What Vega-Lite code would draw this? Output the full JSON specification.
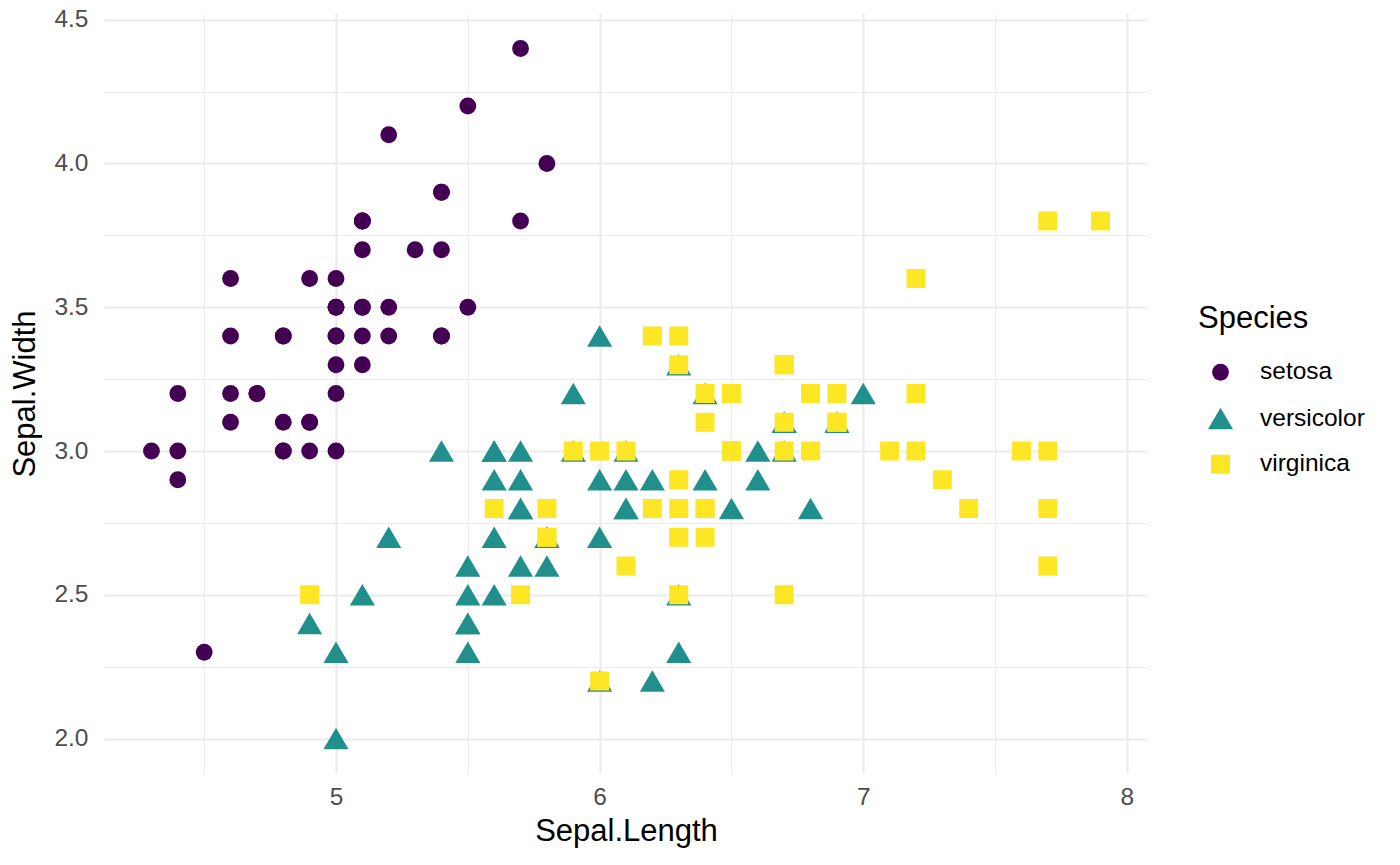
{
  "$schema": "https://vega.github.io/schema/vega-lite/v6.json",
  "width": 1044,
  "height": 759,
  "autosize": {"type": "none"},
  "padding": {"left": 104, "top": 14, "right": 252, "bottom": 92},
  "background": "white",
  "config": {
    "view": {"stroke": null},
    "font": "Liberation Sans",
    "axis": {
      "domain": false,
      "ticks": false,
      "labelFont": "Liberation Sans",
      "labelFontSize": 24.5,
      "labelColor": "#4D4D4D",
      "labelOverlap": false,
      "titleFont": "Liberation Sans",
      "titleFontSize": 31,
      "titleFontWeight": "normal",
      "titleColor": "#000000"
    },
    "legend": {
      "labelFont": "Liberation Sans",
      "titleFont": "Liberation Sans"
    }
  },
  "data": {
    "values": [
      {"Sepal.Length": 5.1, "Sepal.Width": 3.5, "Species": "setosa"},
      {"Sepal.Length": 4.9, "Sepal.Width": 3.0, "Species": "setosa"},
      {"Sepal.Length": 4.7, "Sepal.Width": 3.2, "Species": "setosa"},
      {"Sepal.Length": 4.6, "Sepal.Width": 3.1, "Species": "setosa"},
      {"Sepal.Length": 5.0, "Sepal.Width": 3.6, "Species": "setosa"},
      {"Sepal.Length": 5.4, "Sepal.Width": 3.9, "Species": "setosa"},
      {"Sepal.Length": 4.6, "Sepal.Width": 3.4, "Species": "setosa"},
      {"Sepal.Length": 5.0, "Sepal.Width": 3.4, "Species": "setosa"},
      {"Sepal.Length": 4.4, "Sepal.Width": 2.9, "Species": "setosa"},
      {"Sepal.Length": 4.9, "Sepal.Width": 3.1, "Species": "setosa"},
      {"Sepal.Length": 5.4, "Sepal.Width": 3.7, "Species": "setosa"},
      {"Sepal.Length": 4.8, "Sepal.Width": 3.4, "Species": "setosa"},
      {"Sepal.Length": 4.8, "Sepal.Width": 3.0, "Species": "setosa"},
      {"Sepal.Length": 4.3, "Sepal.Width": 3.0, "Species": "setosa"},
      {"Sepal.Length": 5.8, "Sepal.Width": 4.0, "Species": "setosa"},
      {"Sepal.Length": 5.7, "Sepal.Width": 4.4, "Species": "setosa"},
      {"Sepal.Length": 5.4, "Sepal.Width": 3.9, "Species": "setosa"},
      {"Sepal.Length": 5.1, "Sepal.Width": 3.5, "Species": "setosa"},
      {"Sepal.Length": 5.7, "Sepal.Width": 3.8, "Species": "setosa"},
      {"Sepal.Length": 5.1, "Sepal.Width": 3.8, "Species": "setosa"},
      {"Sepal.Length": 5.4, "Sepal.Width": 3.4, "Species": "setosa"},
      {"Sepal.Length": 5.1, "Sepal.Width": 3.7, "Species": "setosa"},
      {"Sepal.Length": 4.6, "Sepal.Width": 3.6, "Species": "setosa"},
      {"Sepal.Length": 5.1, "Sepal.Width": 3.3, "Species": "setosa"},
      {"Sepal.Length": 4.8, "Sepal.Width": 3.4, "Species": "setosa"},
      {"Sepal.Length": 5.0, "Sepal.Width": 3.0, "Species": "setosa"},
      {"Sepal.Length": 5.0, "Sepal.Width": 3.4, "Species": "setosa"},
      {"Sepal.Length": 5.2, "Sepal.Width": 3.5, "Species": "setosa"},
      {"Sepal.Length": 5.2, "Sepal.Width": 3.4, "Species": "setosa"},
      {"Sepal.Length": 4.7, "Sepal.Width": 3.2, "Species": "setosa"},
      {"Sepal.Length": 4.8, "Sepal.Width": 3.1, "Species": "setosa"},
      {"Sepal.Length": 5.4, "Sepal.Width": 3.4, "Species": "setosa"},
      {"Sepal.Length": 5.2, "Sepal.Width": 4.1, "Species": "setosa"},
      {"Sepal.Length": 5.5, "Sepal.Width": 4.2, "Species": "setosa"},
      {"Sepal.Length": 4.9, "Sepal.Width": 3.1, "Species": "setosa"},
      {"Sepal.Length": 5.0, "Sepal.Width": 3.2, "Species": "setosa"},
      {"Sepal.Length": 5.5, "Sepal.Width": 3.5, "Species": "setosa"},
      {"Sepal.Length": 4.9, "Sepal.Width": 3.6, "Species": "setosa"},
      {"Sepal.Length": 4.4, "Sepal.Width": 3.0, "Species": "setosa"},
      {"Sepal.Length": 5.1, "Sepal.Width": 3.4, "Species": "setosa"},
      {"Sepal.Length": 5.0, "Sepal.Width": 3.5, "Species": "setosa"},
      {"Sepal.Length": 4.5, "Sepal.Width": 2.3, "Species": "setosa"},
      {"Sepal.Length": 4.4, "Sepal.Width": 3.2, "Species": "setosa"},
      {"Sepal.Length": 5.0, "Sepal.Width": 3.5, "Species": "setosa"},
      {"Sepal.Length": 5.1, "Sepal.Width": 3.8, "Species": "setosa"},
      {"Sepal.Length": 4.8, "Sepal.Width": 3.0, "Species": "setosa"},
      {"Sepal.Length": 5.1, "Sepal.Width": 3.8, "Species": "setosa"},
      {"Sepal.Length": 4.6, "Sepal.Width": 3.2, "Species": "setosa"},
      {"Sepal.Length": 5.3, "Sepal.Width": 3.7, "Species": "setosa"},
      {"Sepal.Length": 5.0, "Sepal.Width": 3.3, "Species": "setosa"},
      {"Sepal.Length": 7.0, "Sepal.Width": 3.2, "Species": "versicolor"},
      {"Sepal.Length": 6.4, "Sepal.Width": 3.2, "Species": "versicolor"},
      {"Sepal.Length": 6.9, "Sepal.Width": 3.1, "Species": "versicolor"},
      {"Sepal.Length": 5.5, "Sepal.Width": 2.3, "Species": "versicolor"},
      {"Sepal.Length": 6.5, "Sepal.Width": 2.8, "Species": "versicolor"},
      {"Sepal.Length": 5.7, "Sepal.Width": 2.8, "Species": "versicolor"},
      {"Sepal.Length": 6.3, "Sepal.Width": 3.3, "Species": "versicolor"},
      {"Sepal.Length": 4.9, "Sepal.Width": 2.4, "Species": "versicolor"},
      {"Sepal.Length": 6.6, "Sepal.Width": 2.9, "Species": "versicolor"},
      {"Sepal.Length": 5.2, "Sepal.Width": 2.7, "Species": "versicolor"},
      {"Sepal.Length": 5.0, "Sepal.Width": 2.0, "Species": "versicolor"},
      {"Sepal.Length": 5.9, "Sepal.Width": 3.0, "Species": "versicolor"},
      {"Sepal.Length": 6.0, "Sepal.Width": 2.2, "Species": "versicolor"},
      {"Sepal.Length": 6.1, "Sepal.Width": 2.9, "Species": "versicolor"},
      {"Sepal.Length": 5.6, "Sepal.Width": 2.9, "Species": "versicolor"},
      {"Sepal.Length": 6.7, "Sepal.Width": 3.1, "Species": "versicolor"},
      {"Sepal.Length": 5.6, "Sepal.Width": 3.0, "Species": "versicolor"},
      {"Sepal.Length": 5.8, "Sepal.Width": 2.7, "Species": "versicolor"},
      {"Sepal.Length": 6.2, "Sepal.Width": 2.2, "Species": "versicolor"},
      {"Sepal.Length": 5.6, "Sepal.Width": 2.5, "Species": "versicolor"},
      {"Sepal.Length": 5.9, "Sepal.Width": 3.2, "Species": "versicolor"},
      {"Sepal.Length": 6.1, "Sepal.Width": 2.8, "Species": "versicolor"},
      {"Sepal.Length": 6.3, "Sepal.Width": 2.5, "Species": "versicolor"},
      {"Sepal.Length": 6.1, "Sepal.Width": 2.8, "Species": "versicolor"},
      {"Sepal.Length": 6.4, "Sepal.Width": 2.9, "Species": "versicolor"},
      {"Sepal.Length": 6.6, "Sepal.Width": 3.0, "Species": "versicolor"},
      {"Sepal.Length": 6.8, "Sepal.Width": 2.8, "Species": "versicolor"},
      {"Sepal.Length": 6.7, "Sepal.Width": 3.0, "Species": "versicolor"},
      {"Sepal.Length": 6.0, "Sepal.Width": 2.9, "Species": "versicolor"},
      {"Sepal.Length": 5.7, "Sepal.Width": 2.6, "Species": "versicolor"},
      {"Sepal.Length": 5.5, "Sepal.Width": 2.4, "Species": "versicolor"},
      {"Sepal.Length": 5.5, "Sepal.Width": 2.4, "Species": "versicolor"},
      {"Sepal.Length": 5.8, "Sepal.Width": 2.7, "Species": "versicolor"},
      {"Sepal.Length": 6.0, "Sepal.Width": 2.7, "Species": "versicolor"},
      {"Sepal.Length": 5.4, "Sepal.Width": 3.0, "Species": "versicolor"},
      {"Sepal.Length": 6.0, "Sepal.Width": 3.4, "Species": "versicolor"},
      {"Sepal.Length": 6.7, "Sepal.Width": 3.1, "Species": "versicolor"},
      {"Sepal.Length": 6.3, "Sepal.Width": 2.3, "Species": "versicolor"},
      {"Sepal.Length": 5.6, "Sepal.Width": 3.0, "Species": "versicolor"},
      {"Sepal.Length": 5.5, "Sepal.Width": 2.5, "Species": "versicolor"},
      {"Sepal.Length": 5.5, "Sepal.Width": 2.6, "Species": "versicolor"},
      {"Sepal.Length": 6.1, "Sepal.Width": 3.0, "Species": "versicolor"},
      {"Sepal.Length": 5.8, "Sepal.Width": 2.6, "Species": "versicolor"},
      {"Sepal.Length": 5.0, "Sepal.Width": 2.3, "Species": "versicolor"},
      {"Sepal.Length": 5.6, "Sepal.Width": 2.7, "Species": "versicolor"},
      {"Sepal.Length": 5.7, "Sepal.Width": 3.0, "Species": "versicolor"},
      {"Sepal.Length": 5.7, "Sepal.Width": 2.9, "Species": "versicolor"},
      {"Sepal.Length": 6.2, "Sepal.Width": 2.9, "Species": "versicolor"},
      {"Sepal.Length": 5.1, "Sepal.Width": 2.5, "Species": "versicolor"},
      {"Sepal.Length": 5.7, "Sepal.Width": 2.8, "Species": "versicolor"},
      {"Sepal.Length": 6.3, "Sepal.Width": 3.3, "Species": "virginica"},
      {"Sepal.Length": 5.8, "Sepal.Width": 2.7, "Species": "virginica"},
      {"Sepal.Length": 7.1, "Sepal.Width": 3.0, "Species": "virginica"},
      {"Sepal.Length": 6.3, "Sepal.Width": 2.9, "Species": "virginica"},
      {"Sepal.Length": 6.5, "Sepal.Width": 3.0, "Species": "virginica"},
      {"Sepal.Length": 7.6, "Sepal.Width": 3.0, "Species": "virginica"},
      {"Sepal.Length": 4.9, "Sepal.Width": 2.5, "Species": "virginica"},
      {"Sepal.Length": 7.3, "Sepal.Width": 2.9, "Species": "virginica"},
      {"Sepal.Length": 6.7, "Sepal.Width": 2.5, "Species": "virginica"},
      {"Sepal.Length": 7.2, "Sepal.Width": 3.6, "Species": "virginica"},
      {"Sepal.Length": 6.5, "Sepal.Width": 3.2, "Species": "virginica"},
      {"Sepal.Length": 6.4, "Sepal.Width": 2.7, "Species": "virginica"},
      {"Sepal.Length": 6.8, "Sepal.Width": 3.0, "Species": "virginica"},
      {"Sepal.Length": 5.7, "Sepal.Width": 2.5, "Species": "virginica"},
      {"Sepal.Length": 5.8, "Sepal.Width": 2.8, "Species": "virginica"},
      {"Sepal.Length": 6.4, "Sepal.Width": 3.2, "Species": "virginica"},
      {"Sepal.Length": 6.5, "Sepal.Width": 3.0, "Species": "virginica"},
      {"Sepal.Length": 7.7, "Sepal.Width": 3.8, "Species": "virginica"},
      {"Sepal.Length": 7.7, "Sepal.Width": 2.6, "Species": "virginica"},
      {"Sepal.Length": 6.0, "Sepal.Width": 2.2, "Species": "virginica"},
      {"Sepal.Length": 6.9, "Sepal.Width": 3.2, "Species": "virginica"},
      {"Sepal.Length": 5.6, "Sepal.Width": 2.8, "Species": "virginica"},
      {"Sepal.Length": 7.7, "Sepal.Width": 2.8, "Species": "virginica"},
      {"Sepal.Length": 6.3, "Sepal.Width": 2.7, "Species": "virginica"},
      {"Sepal.Length": 6.7, "Sepal.Width": 3.3, "Species": "virginica"},
      {"Sepal.Length": 7.2, "Sepal.Width": 3.2, "Species": "virginica"},
      {"Sepal.Length": 6.2, "Sepal.Width": 2.8, "Species": "virginica"},
      {"Sepal.Length": 6.1, "Sepal.Width": 3.0, "Species": "virginica"},
      {"Sepal.Length": 6.4, "Sepal.Width": 2.8, "Species": "virginica"},
      {"Sepal.Length": 7.2, "Sepal.Width": 3.0, "Species": "virginica"},
      {"Sepal.Length": 7.4, "Sepal.Width": 2.8, "Species": "virginica"},
      {"Sepal.Length": 7.9, "Sepal.Width": 3.8, "Species": "virginica"},
      {"Sepal.Length": 6.4, "Sepal.Width": 2.8, "Species": "virginica"},
      {"Sepal.Length": 6.3, "Sepal.Width": 2.8, "Species": "virginica"},
      {"Sepal.Length": 6.1, "Sepal.Width": 2.6, "Species": "virginica"},
      {"Sepal.Length": 7.7, "Sepal.Width": 3.0, "Species": "virginica"},
      {"Sepal.Length": 6.3, "Sepal.Width": 3.4, "Species": "virginica"},
      {"Sepal.Length": 6.4, "Sepal.Width": 3.1, "Species": "virginica"},
      {"Sepal.Length": 6.0, "Sepal.Width": 3.0, "Species": "virginica"},
      {"Sepal.Length": 6.9, "Sepal.Width": 3.1, "Species": "virginica"},
      {"Sepal.Length": 6.7, "Sepal.Width": 3.1, "Species": "virginica"},
      {"Sepal.Length": 6.9, "Sepal.Width": 3.1, "Species": "virginica"},
      {"Sepal.Length": 5.8, "Sepal.Width": 2.7, "Species": "virginica"},
      {"Sepal.Length": 6.8, "Sepal.Width": 3.2, "Species": "virginica"},
      {"Sepal.Length": 6.7, "Sepal.Width": 3.3, "Species": "virginica"},
      {"Sepal.Length": 6.7, "Sepal.Width": 3.0, "Species": "virginica"},
      {"Sepal.Length": 6.3, "Sepal.Width": 2.5, "Species": "virginica"},
      {"Sepal.Length": 6.5, "Sepal.Width": 3.0, "Species": "virginica"},
      {"Sepal.Length": 6.2, "Sepal.Width": 3.4, "Species": "virginica"},
      {"Sepal.Length": 5.9, "Sepal.Width": 3.0, "Species": "virginica"}
    ]
  },
  "mark": {"type": "point", "filled": true, "opacity": 1, "strokeWidth": 0},
  "encoding": {
    "x": {
      "field": "Sepal\\.Length",
      "type": "quantitative",
      "title": "Sepal.Length",
      "scale": {"domain": [4.12, 8.08], "nice": false, "zero": false},
      "axis": {
        "values": [4.5, 5, 5.5, 6, 6.5, 7, 7.5, 8],
        "tickCount": 30,
        "labelExpr": "datum.value % 1 === 0 ? format(datum.value, 'd') : ''",
        "labelPadding": 12,
        "titlePadding": 8,
        "gridColor": "#EBEBEB",
        "gridWidth": {"condition": {"test": "datum.value % 1 === 0", "value": 2.2}, "value": 1.1}
      }
    },
    "y": {
      "field": "Sepal\\.Width",
      "type": "quantitative",
      "title": "Sepal.Width",
      "scale": {"domain": [1.88, 4.52], "nice": false, "zero": false},
      "axis": {
        "values": [2.0, 2.25, 2.5, 2.75, 3.0, 3.25, 3.5, 3.75, 4.0, 4.25, 4.5],
        "tickCount": 30,
        "labelExpr": "(datum.value * 2) % 1 === 0 ? datum.label : ''",
        "format": ".1f",
        "labelPadding": 16,
        "titlePadding": 12,
        "gridColor": "#EBEBEB",
        "gridWidth": {"condition": {"test": "(datum.value * 2) % 1 === 0", "value": 2.2}, "value": 1.1}
      }
    },
    "color": {
      "field": "Species",
      "type": "nominal",
      "title": "Species",
      "scale": {"domain": ["setosa", "versicolor", "virginica"], "range": ["#440154", "#21908C", "#FDE725"]},
      "legend": {
        "orient": "none",
        "legendX": 1094,
        "legendY": 290,
        "titleFontSize": 31,
        "titleFontWeight": "normal",
        "titleColor": "#000000",
        "titlePadding": 25,
        "labelFontSize": 24.5,
        "labelColor": "#000000",
        "labelOffset": 26,
        "symbolOffset": 9,
        "rowPadding": 21,
        "padding": 0
      }
    },
    "shape": {
      "field": "Species",
      "type": "nominal",
      "title": "Species",
      "scale": {"domain": ["setosa", "versicolor", "virginica"], "range": ["circle", "triangle-up", "square"]}
    },
    "size": {
      "field": "Species",
      "type": "nominal",
      "title": "Species",
      "scale": {"type": "ordinal", "domain": ["setosa", "versicolor", "virginica"], "range": [283, 630, 361]}
    }
  }
}
